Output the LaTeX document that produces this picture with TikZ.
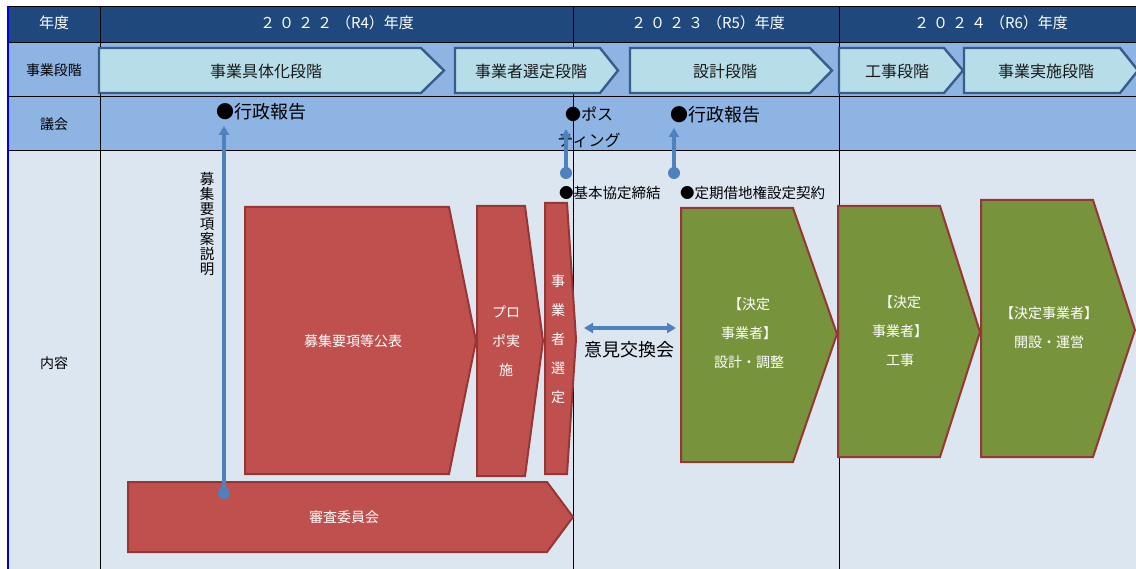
\documentclass[tikz,border=0pt]{standalone}
\usepackage{fontspec}
\setmainfont{Noto Sans CJK JP}
\usetikzlibrary{arrows.meta}
\definecolor{hdr}{HTML}{1F497D}
\definecolor{rowb}{HTML}{8DB4E2}
\definecolor{rowc}{HTML}{DCE6F1}
\definecolor{pentf}{HTML}{B7DEE8}
\definecolor{pentd}{HTML}{385D8A}
\definecolor{redf}{HTML}{C0504D}
\definecolor{redd}{HTML}{953735}
\definecolor{grnf}{HTML}{77933C}
\definecolor{arrc}{HTML}{4F81BD}
\newcommand\yk{\kern4pt}
\tikzset{
  gridln/.style={black, line width=0.9pt},
  pentsh/.style={fill=pentf, draw=pentd, line width=2.4pt, line join=miter},
  redsh/.style={fill=redf, draw=redd, line width=2pt, line join=miter},
  grnsh/.style={fill=grnf, draw=redd, line width=2pt, line join=miter},
  lbl/.style={inner sep=0pt, font=\fontsize{14}{17}\selectfont},
  hdrtxt/.style={inner sep=0pt, text=white, font=\fontsize{15}{18}\selectfont},
  pentxt/.style={inner sep=0pt, text=black!90, font=\fontsize{16}{19}\selectfont},
  boxtxt/.style={inner sep=0pt, text=white, align=center, font=\fontsize{14}{29}\selectfont},
  evtxt/.style={inner sep=0pt, anchor=west, font=\fontsize{18}{22}\selectfont},
  smtxt/.style={inner sep=0pt, anchor=west, font=\fontsize{14.5}{17}\selectfont},
  dotn/.style={circle, fill=arrc, inner sep=0pt, minimum size=12pt},
  barr/.style={arrc, line width=3.3pt, -{Triangle[length=9pt,width=10pt]}},
  bdarr/.style={arrc, line width=3.3pt, {Triangle[length=9pt,width=10pt]}-{Triangle[length=9pt,width=10pt]}},
}
\begin{document}
\begin{tikzpicture}[x=1pt,y=-1pt]
\useasboundingbox (0,0) rectangle (1136,569);
\fill[white] (0,0) rectangle (1136,569);
% row backgrounds
\fill[hdr] (8,6) rectangle (1136,42);
\fill[rowb] (8,42) rectangle (1136,150);
\fill[rowc] (8,150) rectangle (1136,569);
% grid
\draw[gridln] (8,6) -- (1136,6);
\draw[gridln] (8,42) -- (1136,42);
\draw[gridln] (8,96) -- (1136,96);
\draw[gridln] (8,150) -- (1136,150);
\draw[gridln] (100,6) -- (100,569);
\draw[gridln] (573,6) -- (573,569);
\draw[gridln] (839,6) -- (839,569);
\draw[blue!85!black, line width=1.6pt] (8,6) -- (8,569);

% header texts
\node[hdrtxt] (lyear) at (54,23) {年度};
\node[hdrtxt] (y22) at (337,23) {２\yk０\yk２\yk２\yk（R4）年度};
\node[hdrtxt] (y23) at (708,23) {２\yk０\yk２\yk３\yk（R5）年度};
\node[hdrtxt] (y24) at (991,23) {２\yk０\yk２\yk４\yk（R6）年度};

% left labels
\node[lbl] (lstage) at (54,70) {事業段階};
\node[lbl] (lgikai) at (54,124) {議会};
\node[lbl] (lnaiyo) at (54,363) {内容};

% stage pentagons
\draw[pentsh] (99,48) -- (421,48) -- (444,70.5) -- (421,93) -- (99,93) -- cycle;
\draw[pentsh] (455,48) -- (600,48) -- (618,70.5) -- (600,93) -- (455,93) -- cycle;
\draw[pentsh] (630,48) -- (810,48) -- (832,70.5) -- (810,93) -- (630,93) -- cycle;
\draw[pentsh] (839,48) -- (944,48) -- (963,70.5) -- (944,93) -- (839,93) -- cycle;
\draw[pentsh] (964,48) -- (1120,48) -- (1138,70.5) -- (1120,93) -- (964,93) -- cycle;
\node[pentxt] (s1) at (266,71) {事業具体化段階};
\node[pentxt] (s2) at (531,71) {事業者選定段階};
\node[pentxt] (s3) at (725,71) {設計段階};
\node[pentxt] (s4) at (897,71) {工事段階};
\node[pentxt] (s5) at (1046,71) {事業実施段階};

% red shapes
\draw[redsh] (245,207) -- (449,207) -- (476,341) -- (449,474) -- (245,474) -- cycle;
\draw[redsh] (477,206) -- (525,206) -- (543,341) -- (525,476) -- (477,476) -- cycle;
\draw[redsh] (545,203) -- (567,203) -- (576,339) -- (567,474) -- (545,474) -- cycle;
\draw[redsh] (128,482) -- (547,482) -- (573,517) -- (547,552) -- (128,552) -- cycle;
\node[boxtxt] (kouhyou) at (353,341) {募集要項等公表};
\node[boxtxt] (propo) at (506,341) {プロ\\ポ実\\施};
\node[boxtxt] (sentei) at (558,339) {事\\業\\者\\選\\定};
\node[boxtxt] (shinsa) at (344,517) {審査委員会};

% green shapes
\draw[grnsh] (681,208) -- (793,208) -- (837,334) -- (793,462) -- (681,462) -- cycle;
\draw[grnsh] (838,206) -- (940,206) -- (980,332) -- (940,457) -- (838,457) -- cycle;
\draw[grnsh] (981,200) -- (1093,200) -- (1135,330) -- (1093,457) -- (981,457) -- cycle;
\node[boxtxt] (g1) at (749,333) {【決定\\事業者】\\設計・調整};
\node[boxtxt] (g2) at (900,331) {【決定\\事業者】\\工事};
\node[boxtxt] (g3) at (1049,328) {【決定事業者】\\開設・運営};

% council events
\node[evtxt] (gyosei1) at (216,112) {●行政報告};
\node[evtxt] (gyosei2) at (670,115) {●行政報告};
\node[inner sep=0pt, align=center, font=\fontsize{16}{26}\selectfont] (posting) at (589,127) {●ポス\\ティング};
\node[smtxt] (kihon) at (559,193) {●基本協定締結};
\node[smtxt] (teiki) at (680,193) {●定期借地権設定契約};

% vertical text
\node[inner sep=0pt, align=center, font=\fontsize{14.5}{15}\selectfont] (boshu) at (207,224) {募\\集\\要\\項\\案\\説\\明};

% arrows
\node[dotn] (d1) at (224,493) {};
\node[dotn] (d2) at (566,173) {};
\node[dotn] (d3) at (674,173) {};
\coordinate (t1) at (224,126);
\coordinate (t2) at (566,129);
\coordinate (t3) at (674,128);
\draw[barr] (d1.center) -- (t1);
\draw[barr] (d2.center) -- (t2);
\draw[barr] (d3.center) -- (t3);

\coordinate (e1) at (584,328);
\coordinate (e2) at (676,328);
\draw[bdarr] (e1) -- (e2);
\node[inner sep=0pt, font=\fontsize{18}{22}\selectfont] (iken) at (629,350) {意見交換会};
\end{tikzpicture}
\end{document}
